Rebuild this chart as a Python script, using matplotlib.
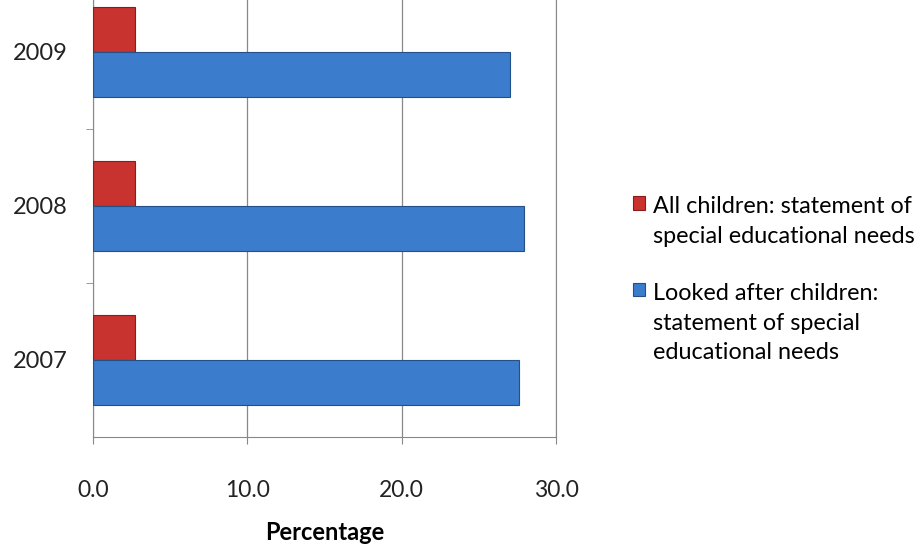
import matplotlib.pyplot as plt
import numpy as np

# values
years = ["2007", "2008", "2009"]
all_children = [2.7, 2.7, 2.7]
looked_after = [27.6, 27.9, 27.0]
series_labels = ["All children: statement of\nspecial educational needs",
                 "Looked after children:\nstatement of special\neducational needs"]
x_ticks = [0, 10, 20, 30]

plt.rcParams['font.family'] = ['Lato', 'DejaVu Sans']

fig = plt.figure(figsize=(9.23, 5.45), dpi=100)
# axes top runs past the image edge, like the cropped original
ax = fig.add_axes([93 / 923, 108 / 545, 463 / 923, 462 / 545])

pos = np.arange(len(years))
h = 0.29
red_bars = ax.barh(pos + h / 2, all_children, height=h, color='#c8322f',
                   edgecolor='#8a1c1a', linewidth=0.8, zorder=3)
blue_bars = ax.barh(pos - h / 2, looked_after, height=h, color='#3b7ccc',
                    edgecolor='#24508a', linewidth=0.8, zorder=3)

ax.set_xlim(0, 30)
ax.set_ylim(-0.5, 2.5)
ax.set_xticks(x_ticks)
ax.set_xticklabels([f"{v:.1f}" for v in x_ticks], fontsize=16.5, color='#222222')
ax.set_yticks(pos)
ax.set_yticklabels(years, fontsize=17, color='#222222')
ax.set_yticks([0.5, 1.5], minor=True)
ax.tick_params(axis='y', which='major', length=0, pad=18)
ax.tick_params(axis='y', which='minor', length=5, color='#888888')
ax.tick_params(axis='x', length=5, color='#888888', pad=26)

ax.grid(axis='x', color='#888888', linewidth=0.9, zorder=0)
ax.spines['top'].set_visible(False)
for side in ['left', 'bottom', 'right']:
    ax.spines[side].set_color('#888888')

ax.set_xlabel('Percentage', fontsize=17, fontweight='bold', labelpad=14)

leg = fig.legend([red_bars, blue_bars], series_labels, loc='upper left',
                 bbox_to_anchor=(624 / 923, 1 - 187 / 545), frameon=False,
                 fontsize=16.8, handlelength=0.5, handleheight=0.5,
                 handletextpad=0.35, labelspacing=1.55, borderaxespad=0)
for t in leg.get_texts():
    t.set_linespacing(1.5)
# put the marker level with the first line of each label
for item in leg._legend_handle_box.get_children()[0].get_children():
    item.align = 'top'

fig.savefig('out.png', dpi=100)
